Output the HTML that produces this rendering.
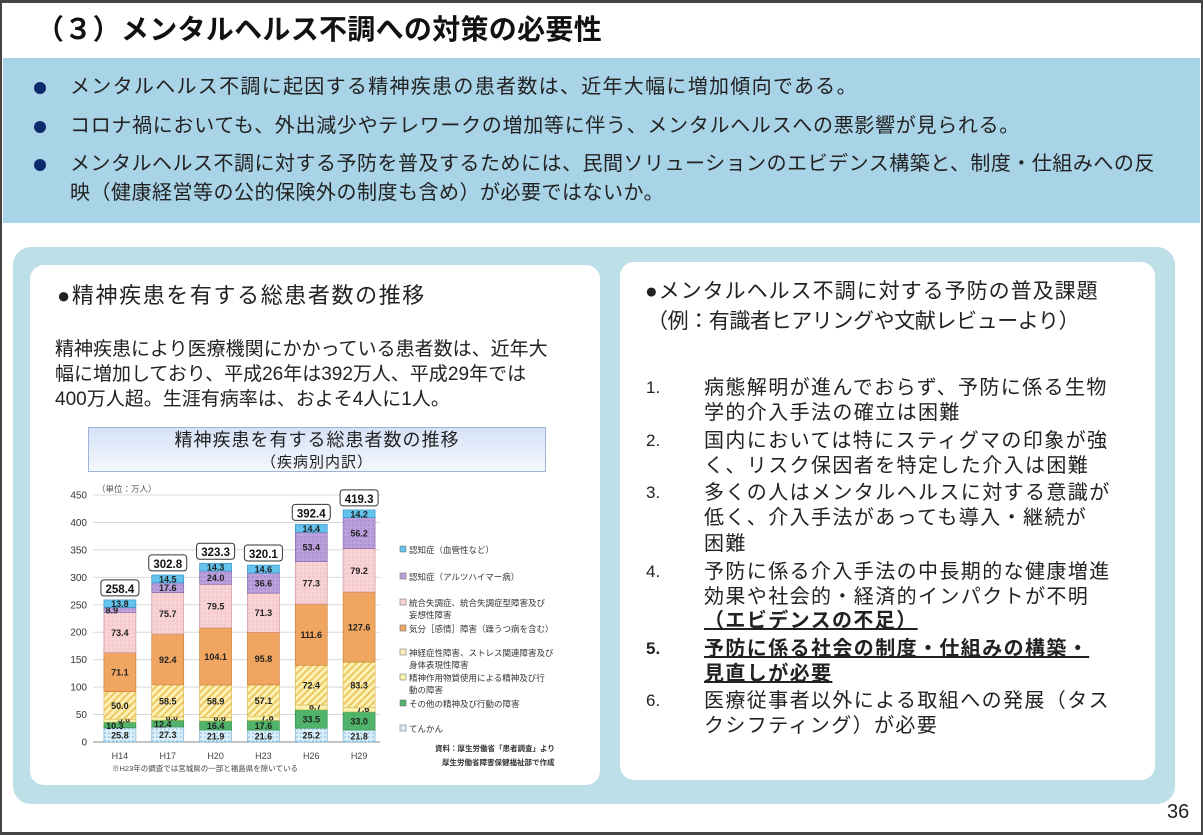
<!DOCTYPE html>
<html><head><meta charset="utf-8">
<style>
body{margin:0;width:1203px;height:835px;overflow:hidden;background:#fff;font-family:"Liberation Sans","Noto Sans CJK JP",sans-serif;color:#222;position:relative}
.a{position:absolute;white-space:nowrap;line-height:1}
.frame{position:absolute;left:0;top:0;width:1203px;height:835px;box-sizing:border-box;border:2px solid #444;border-top-width:3px;border-bottom-width:3px}
.dot{position:absolute;width:12px;height:12px;border-radius:50%;background:#0b2a6b}
</style></head><body>
<div class="frame"></div>
<div class="a" style="left:36px;top:16px;font-size:28px;font-weight:bold;color:#111;letter-spacing:0.3px">（３）メンタルヘルス不調への対策の必要性</div>
<div style="position:absolute;left:3px;top:58px;width:1197px;height:165px;background:#a9d3e7"></div>
<div class="dot" style="left:34px;top:82px"></div>
<div class="dot" style="left:34px;top:121px"></div>
<div class="dot" style="left:34px;top:159px"></div>
<div class="a" style="left:70px;top:77px;font-size:20px;letter-spacing:1.3px">メンタルヘルス不調に起因する精神疾患の患者数は、近年大幅に増加傾向である。</div>
<div class="a" style="left:70px;top:116px;font-size:20px;letter-spacing:0.7px">コロナ禍においても、外出減少やテレワークの増加等に伴う、メンタルヘルスへの悪影響が見られる。</div>
<div class="a" style="left:70px;top:154px;font-size:20px;letter-spacing:0.5px">メンタルヘルス不調に対する予防を普及するためには、民間ソリューションのエビデンス構築と、制度・仕組みへの反</div>
<div class="a" style="left:70px;top:183px;font-size:20px;letter-spacing:0.5px">映（健康経営等の公的保険外の制度も含め）が必要ではないか。</div>

<div style="position:absolute;left:13px;top:247px;width:1162px;height:557px;background:#bddfe8;border-radius:18px"></div>
<div style="position:absolute;left:30px;top:265px;width:570px;height:520px;background:#fff;border-radius:14px"></div>
<div style="position:absolute;left:620px;top:262px;width:535px;height:518px;background:#fff;border-radius:14px"></div>

<div class="a" style="left:57px;top:285px;font-size:22px;letter-spacing:1.6px">●精神疾患を有する総患者数の推移</div>
<div class="a" style="left:55px;top:340px;font-size:19px">精神疾患により医療機関にかかっている患者数は、近年大</div>
<div class="a" style="left:55px;top:365px;font-size:19px">幅に増加しており、平成26年は392万人、平成29年では</div>
<div class="a" style="left:55px;top:390px;font-size:19px">400万人超。生涯有病率は、およそ4人に1人。</div>

<div style="position:absolute;left:88px;top:427px;width:458px;height:45px;background:linear-gradient(#d6e2f7,#f3f7fd);border:1px solid #9fb4d6;box-sizing:border-box"></div>
<div class="a" style="left:88px;width:458px;text-align:center;top:431px;font-size:18px;letter-spacing:1px">精神疾患を有する総患者数の推移</div>
<div class="a" style="left:88px;width:458px;text-align:center;top:455px;font-size:15px;letter-spacing:1px">（疾病別内訳）</div>

<svg id="chart" style="position:absolute;left:0;top:0" width="1203" height="835">
<defs>
<pattern id="pDot" width="4" height="4" patternUnits="userSpaceOnUse"><rect width="4" height="4" fill="#d9eef8"/><circle cx="1" cy="1" r="0.8" fill="#7fb6d8"/></pattern>
<pattern id="pHatch" width="5" height="5" patternUnits="userSpaceOnUse" patternTransform="rotate(45)"><rect width="5" height="5" fill="#fdf1b8"/><rect width="2" height="5" fill="#ecc860"/></pattern>
<pattern id="pPurple" width="4" height="4" patternUnits="userSpaceOnUse"><rect width="4" height="4" fill="#bca0dc"/><circle cx="1" cy="1" r="0.7" fill="#9a7cc4"/></pattern>
<pattern id="pPink" width="4" height="4" patternUnits="userSpaceOnUse"><rect width="4" height="4" fill="#f8d2d4"/><circle cx="1" cy="1" r="0.6" fill="#e4aeb2"/></pattern>
</defs>
</svg>

<div class="a" style="left:645px;top:281px;font-size:21px;letter-spacing:1px">●メンタルヘルス不調に対する予防の普及課題</div>
<div class="a" style="left:647px;top:311px;font-size:21px;letter-spacing:-0.4px">（例：有識者ヒアリングや文献レビューより）</div>

<div id="list"></div>
<div class="a" style="left:1167px;top:802px;font-size:20px">36</div>

<script>
// chart data
const years = ["H14","H17","H20","H23","H26","H29"];
const tenkan = [25.8,27.3,21.9,21.6,25.2,21.8];
const other = [10.3,12.4,16.4,17.6,33.5,33.0];
const substance = [5.6,6.0,6.6,7.8,8.7,7.6];
const neurosis = [50.0,58.5,58.9,57.1,72.4,83.3];
const mood = [71.1,92.4,104.1,95.8,111.6,127.6];
const schizo = [73.4,75.7,79.5,71.3,77.3,79.2];
const alzheimer = [8.9,17.6,24.0,36.6,53.4,56.2];
const vascular = [13.8,14.5,14.3,14.6,14.4,14.2];
const totals = ["258.4","302.8","323.3","320.1","392.4","419.3"];
const yTicks = [0,50,100,150,200,250,300,350,400,450];

const NS="http://www.w3.org/2000/svg";
const svg=document.getElementById('chart');
const x0=93,x1=380,yBase=742,yTop=495,maxV=450;
const yS=v=>yBase-v*(yBase-yTop)/maxV;
const step=(x1-x0)/years.length;
const xC=i=>x0+step*(i+0.5)+3;
const bw=32;
function mk(tag,attrs){const e=document.createElementNS(NS,tag);for(const k in attrs)e.setAttribute(k,attrs[k]);svg.appendChild(e);return e;}

yTicks.forEach(t=>{
  const g=mk('line',{x1:x0,x2:x1,y1:yS(t),y2:yS(t),stroke:t===0?'#888':'#d8d8d8','stroke-width':1});
  
  
  const tx=mk('text',{x:x0-6,y:yS(t)+3.5,'text-anchor':'end','font-size':10,fill:'#333'});
  tx.textContent=t;
  
  
});
const unit=mk('text',{x:97,y:492,'font-size':8.5,fill:'#555'});unit.textContent='（単位：万人）';



const series=[
 {d:tenkan,f:'url(#pDot)',s:'#6aa7cf',n:'tenkan'},
 {d:other,f:'#4fb369',s:'#2f8a48',n:'other'},
 {d:substance,f:'#f9f3b0',s:'#c8b64a',n:'substance'},
 {d:neurosis,f:'url(#pHatch)',s:'#d6b24a',n:'neurosis'},
 {d:mood,f:'#f0a660',s:'#c97a30',n:'mood'},
 {d:schizo,f:'url(#pPink)',s:'#c98b90',n:'schizophrenia'},
 {d:alzheimer,f:'url(#pPurple)',s:'#7d61a8',n:'alzheimer'},
 {d:vascular,f:'#63c3ec',s:'#2d8fbf',n:'vascular'}
];
years.forEach((yr,i)=>{
  let cum=0;
  series.forEach((s,si)=>{
    const v=s.d[i];
    const yt=yS(cum+v),yb=yS(cum);
    const r=mk('rect',{x:xC(i)-bw/2,y:yt,width:bw,height:yb-yt,fill:s.f,stroke:s.s,'stroke-width':0.6});
    
    
    let lx=xC(i),ly=(yt+yb)/2+3.5;
    if(s.n==='substance'){lx=xC(i)+4;ly=(yt+yb)/2+2;}
    if(s.n==='other'&&v<15){lx=xC(i)-5;ly=(yt+yb)/2+4;}
    if(s.n==='alzheimer'&&v<10){lx=xC(i)-8;ly=(yt+yb)/2+3.5;}
    const t=mk('text',{x:lx,y:ly,'text-anchor':'middle','font-size':9,'font-weight':'bold',fill:'#222'});
    t.textContent=v.toFixed(1);
    
    
    cum+=v;
  });
  const ty=yS(cum)-10;
  const b=mk('rect',{x:xC(i)-19,y:ty-10,width:38,height:16,rx:3,fill:'#fff',stroke:'#333','stroke-width':1});
  
  
  const tt=mk('text',{x:xC(i),y:ty+3,'text-anchor':'middle','font-size':11.5,'font-weight':'bold',fill:'#111'});
  tt.textContent=totals[i];
  
  
  const xl=mk('text',{x:xC(i),y:759,'text-anchor':'middle','font-size':9,fill:'#444'});
  xl.textContent=yr;
  
  
});
const note=mk('text',{x:112,y:771,'font-size':7.5,fill:'#444'});note.textContent='※H23年の調査では宮城県の一部と福島県を除いている';



const legend=[
 {c:'#63c3ec',l:['認知症（血管性など）'],y:553},
 {c:'#bca0dc',l:['認知症（アルツハイマー病）'],y:580},
 {c:'#f8d2d4',l:['統合失調症、統合失調症型障害及び','妄想性障害'],y:606},
 {c:'#f0a660',l:['気分［感情］障害（躁うつ病を含む）'],y:632},
 {c:'#fdf1b8',l:['神経症性障害、ストレス関連障害及び','身体表現性障害'],y:656},
 {c:'#f9f3b0',l:['精神作用物質使用による精神及び行','動の障害'],y:681},
 {c:'#4fb369',l:['その他の精神及び行動の障害'],y:707},
 {c:'#d9eef8',l:['てんかん'],y:732}
];
legend.forEach(L=>{
  const r=mk('rect',{x:400,y:L.y-7,width:6,height:6,fill:L.c,stroke:'#777','stroke-width':0.6});
  
  
  L.l.forEach((s,j)=>{
    const t=mk('text',{x:409,y:L.y+j*12,'font-size':8.5,fill:'#333'});
    t.textContent=s;
    
    
  });
});
const s1=mk('text',{x:435,y:751,'font-size':7.5,'font-weight':'bold',fill:'#333'});s1.textContent='資料：厚生労働省「患者調査」より';


const s2=mk('text',{x:442,y:765,'font-size':7.5,'font-weight':'bold',fill:'#333'});s2.textContent='厚生労働省障害保健福祉部で作成';



// right list
const lines=[
 ['1.','病態解明が進んでおらず、予防に係る生物',390,0],
 ['','学的介入手法の確立は困難',415,0],
 ['2.','国内においては特にスティグマの印象が強',443,0],
 ['','く、リスク保因者を特定した介入は困難',468,0],
 ['3.','多くの人はメンタルヘルスに対する意識が',495,0],
 ['','低く、介入手法があっても導入・継続が',520,0],
 ['','困難',546,0],
 ['4.','予防に係る介入手法の中長期的な健康増進',574,0],
 ['','効果や社会的・経済的インパクトが不明',599,0],
 ['','（エビデンスの不足）',623,1],
 ['5.','予防に係る社会の制度・仕組みの構築・',651,1],
 ['','見直しが必要',676,1],
 ['6.','医療従事者以外による取組への発展（タス',703,0],
 ['','クシフティング）が必要',728,0]
];
const list=document.getElementById('list');
lines.forEach(L=>{
  if(L[0]){const n=document.createElement('div');n.className='a';n.style.cssText=`left:646px;top:${L[2]-11}px;font-size:17px;${L[3]?'font-weight:bold;':''}`;n.textContent=L[0];
  
  
  list.appendChild(n);}
  const d=document.createElement('div');d.className='a';
  d.style.cssText=`left:704px;top:${L[2]-12}px;font-size:20px;letter-spacing:1.4px;${L[3]?'font-weight:bold;text-decoration:underline;':''}`;
  d.textContent=L[1];
  
  
  list.appendChild(d);
});
</script>
</body></html>
